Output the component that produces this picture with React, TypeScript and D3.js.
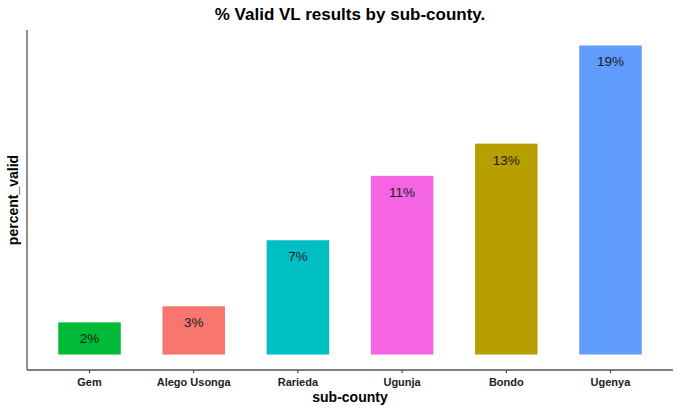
import React from "react";
import * as d3 from "d3";

const categories = ["Gem", "Alego Usonga", "Rarieda", "Ugunja", "Bondo", "Ugenya"];
const values = [2.0, 3.0, 7.1, 11.1, 13.1, 19.2];
const labels = ["2%", "3%", "7%", "11%", "13%", "19%"];
const colors = ["#00BA38", "#F8766D", "#00BFC4", "#F564E3", "#B79F00", "#619CFF"];

const W = 680;
const H = 411;
const left = 27;
const right = 673;
const top = 30;
const bottom = 370;

export default function App() {
  const vmax = d3.max(values) as number;
  const y = d3
    .scaleLinear()
    .domain([-0.05 * vmax, 1.05 * vmax])
    .range([bottom, top]);
  const step = (right - left) / (categories.length - 1 + 1.2);
  const x = d3
    .scalePoint<string>()
    .domain(categories)
    .range([left + 0.6 * step, right - 0.6 * step]);
  const bw = 0.6 * step;
  const font = "Liberation Sans, Arial, sans-serif";
  return (
    <svg
      width={W}
      height={H}
      style={{ position: "absolute", left: 0, top: 0, background: "#fff" }}
      fontFamily={font}
    >
      <text
        x={(left + right) / 2}
        y={20}
        textAnchor="middle"
        fontWeight="bold"
        fontSize={17}
        fill="#000"
      >
        % Valid VL results by sub-county.
      </text>
      {categories.map((c, i) => (
        <g key={c}>
          <rect
            x={(x(c) as number) - bw / 2}
            y={y(values[i])}
            width={bw}
            height={y(0) - y(values[i])}
            fill={colors[i]}
          />
          <text
            x={x(c) as number}
            y={y(values[i]) + 21}
            textAnchor="middle"
            fontSize={13.5}
            fill="#1a1a1a"
          >
            {labels[i]}
          </text>
          <line
            x1={x(c) as number}
            x2={x(c) as number}
            y1={bottom}
            y2={bottom + 3}
            stroke="#333"
            strokeWidth={1.1}
          />
          <text
            x={x(c) as number}
            y={bottom + 16}
            textAnchor="middle"
            fontSize={11}
            fontWeight="bold"
            fill="#222"
          >
            {c}
          </text>
        </g>
      ))}
      <line x1={left} x2={left} y1={top} y2={bottom} stroke="#555" strokeWidth={1.3} />
      <line x1={left} x2={right} y1={bottom} y2={bottom} stroke="#555" strokeWidth={1.3} />
      <text
        x={(left + right) / 2}
        y={bottom + 32}
        textAnchor="middle"
        fontSize={14}
        fontWeight="bold"
        fill="#000"
      >
        sub-county
      </text>
      <text
        transform={`translate(18,${(top + bottom) / 2}) rotate(-90)`}
        textAnchor="middle"
        fontSize={14}
        fontWeight="bold"
        fill="#000"
      >
        percent_valid
      </text>
    </svg>
  );
}
